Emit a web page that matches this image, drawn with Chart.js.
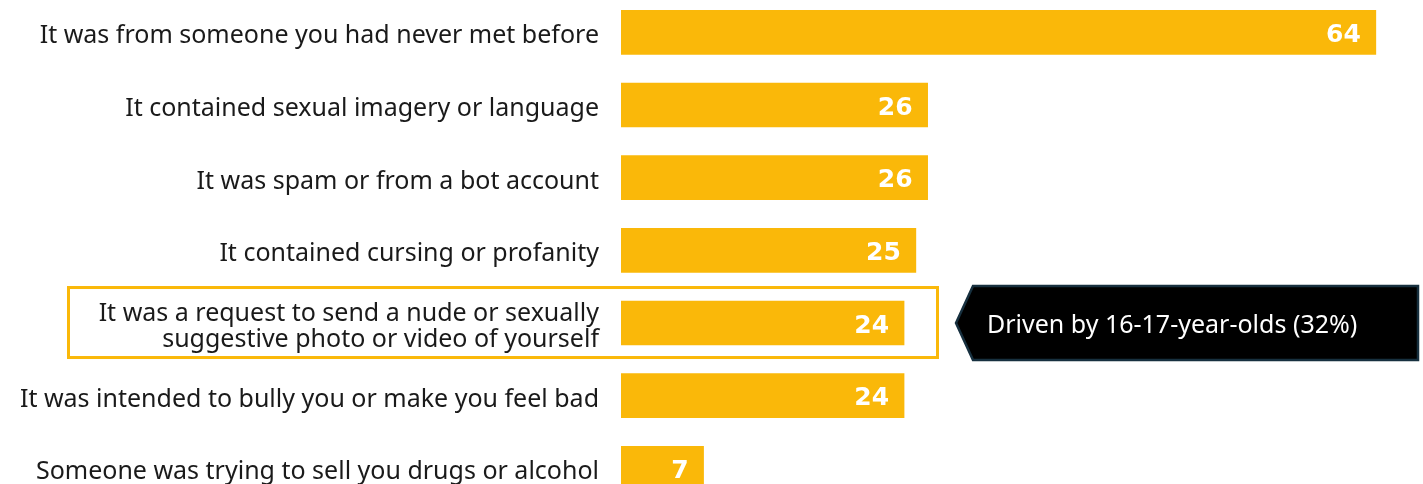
<!DOCTYPE html>
<html lang="en">
<head>
    <meta charset="UTF-8">
    <title>Unwanted messages</title>
    <script src="https://cdn.jsdelivr.net/npm/chart.js"></script>
    <style>
        html, body {
            margin: 0;
            padding: 0;
            background: #ffffff;
            overflow: hidden;
        }

        #chart-div {
            position: absolute;
            left: 0;
            top: -4.3px;
            width: 1423px;
            height: 508.7px;
        }
    </style>
</head>
<body>

    <div id="chart-div">
        <canvas id="chart"></canvas>
    </div>

    <script>
        const categories = [
            'It was from someone you had never met before',
            'It contained sexual imagery or language',
            'It was spam or from a bot account',
            'It contained cursing or profanity',
            ['It was a request to send a nude or sexually', 'suggestive photo or video of yourself'],
            'It was intended to bully you or make you feel bad',
            'Someone was trying to sell you drugs or alcohol'
        ];
        const values = [64, 26, 26, 25, 24, 24, 7];

        const highlightIndex = 4;
        const calloutText = 'Driven by 16-17-year-olds (32%)';

        const barColor = '#FAB809';
        const labelFont = '"Noto Sans", sans-serif';

        // white numbers at the end of each bar
        const valueLabels = {
            id: 'valueLabels',
            afterDatasetsDraw(chart) {
                const ctx = chart.ctx;
                const meta = chart.getDatasetMeta(0);
                ctx.save();
                ctx.fillStyle = '#ffffff';
                ctx.font = 'bold 25px "DejaVu Sans", sans-serif';
                ctx.textAlign = 'right';
                ctx.textBaseline = 'middle';
                meta.data.forEach((bar, i) => {
                    ctx.fillText(String(values[i]), bar.x - 15, bar.y + 3);
                });
                ctx.restore();
            }
        };

        // outline round the highlighted row and the arrow box beside it
        const callout = {
            id: 'callout',
            afterDraw(chart) {
                const ctx = chart.ctx;
                const bar = chart.getDatasetMeta(0).data[highlightIndex];
                const cy = bar.y;
                ctx.save();

                ctx.strokeStyle = '#FAB809';
                ctx.lineWidth = 3;
                ctx.strokeRect(68.5, cy - 35.5, 869, 70);

                const top = cy - 37, bottom = cy + 37;
                ctx.beginPath();
                ctx.moveTo(956, cy);
                ctx.lineTo(973, top);
                ctx.lineTo(1418, top);
                ctx.lineTo(1418, bottom);
                ctx.lineTo(973, bottom);
                ctx.closePath();
                ctx.fillStyle = '#000000';
                ctx.fill();
                ctx.strokeStyle = '#17303F';
                ctx.lineWidth = 2.5;
                ctx.stroke();

                ctx.fillStyle = '#ffffff';
                ctx.font = '25px ' + labelFont;
                ctx.textAlign = 'left';
                ctx.textBaseline = 'middle';
                ctx.fillText(calloutText, 987, cy + 3);
                ctx.restore();
            }
        };

        const ctx = document.getElementById('chart').getContext('2d');
        const chart = new Chart(ctx, {
            type: 'bar',
            data: {
                labels: categories,
                datasets: [{
                    data: values,
                    backgroundColor: barColor,
                    barThickness: 44
                }]
            },
            options: {
                indexAxis: 'y',
                responsive: true,
                maintainAspectRatio: false,
                animation: false,
                layout: { padding: 0 },
                plugins: {
                    legend: { display: false },
                    tooltip: { enabled: false }
                },
                scales: {
                    x: {
                        display: false,
                        min: 0,
                        max: 68
                    },
                    y: {
                        grid: { display: false, drawTicks: false },
                        border: { display: false },
                        ticks: {
                            color: '#1a1a1a',
                            padding: 22,
                            labelOffset: 4,
                            font: { family: labelFont, size: 25, lineHeight: 1.04 }
                        },
                        afterFit(scale) {
                            // fixed label column; no extra top/bottom room for the labels
                            scale.width = 621;
                            scale.paddingTop = 0;
                            scale.paddingBottom = 0;
                        }
                    }
                }
            },
            plugins: [valueLabels, callout]
        });
    </script>
</body>
</html>
